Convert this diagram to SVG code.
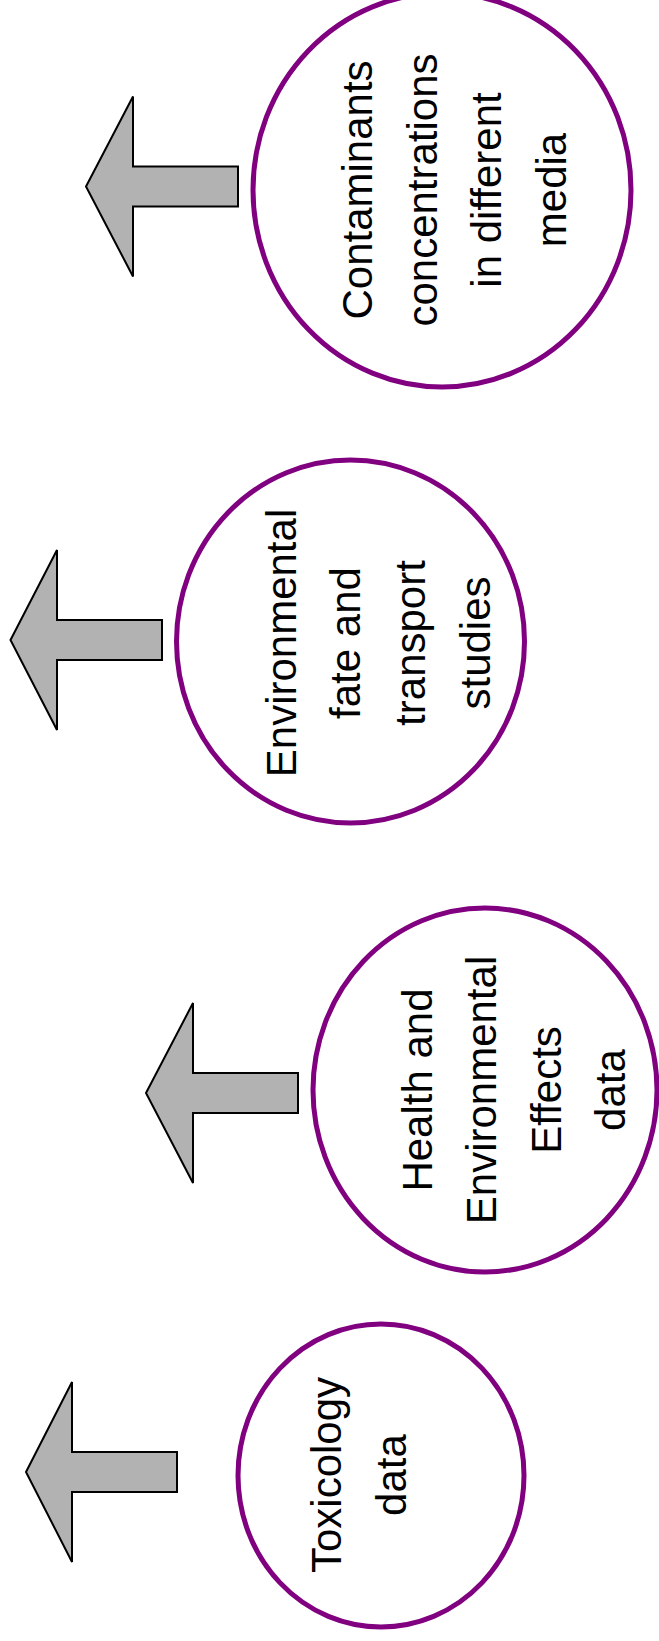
<svg xmlns="http://www.w3.org/2000/svg" width="659" height="1641" viewBox="0 0 659 1641">
<style>
.c{fill:#ffffff;stroke:#800080;stroke-width:5}
.a{fill:#b2b2b2;stroke:#000000;stroke-width:2;stroke-linejoin:miter}
.t{font-family:"Liberation Sans",Arial,sans-serif;font-size:42px;fill:#000000;text-anchor:middle}
</style>
<rect x="0" y="0" width="659" height="1641" fill="#ffffff"/>
<g id="connectors">
<polygon class="a" points="86,186.5 133,96.5 133,166.5 238,166.5 238,206.5 133,206.5 133,276.5"/>
<polygon class="a" points="10.5,640 57,550 57,620 162,620 162,660 57,660 57,730"/>
<polygon class="a" points="146,1093 193,1003 193,1073 298,1073 298,1113 193,1113 193,1183"/>
<polygon class="a" points="26,1472 72,1382 72,1452 177,1452 177,1492 72,1492 72,1562"/>
</g>
<g id="node-contaminants">
<ellipse class="c" cx="442" cy="190" rx="189" ry="197"/>
<text class="t" transform="translate(372,190) rotate(-90)">Contaminants</text>
<text class="t" transform="translate(436.5,190) rotate(-90)">concentrations</text>
<text class="t" transform="translate(501,190) rotate(-90)">in different</text>
<text class="t" transform="translate(565.5,190) rotate(-90)">media</text>
</g>
<g id="node-fate">
<ellipse class="c" cx="350.5" cy="641.5" rx="174" ry="181.5"/>
<text class="t" transform="translate(296,643) rotate(-90)">Environmental</text>
<text class="t" transform="translate(360,643) rotate(-90)">fate and</text>
<text class="t" transform="translate(425,643) rotate(-90)">transport</text>
<text class="t" transform="translate(490,643) rotate(-90)">studies</text>
</g>
<g id="node-health">
<ellipse class="c" cx="485" cy="1090" rx="172" ry="182"/>
<text class="t" transform="translate(431.5,1090) rotate(-90)">Health and</text>
<text class="t" transform="translate(496,1090) rotate(-90)">Environmental</text>
<text class="t" transform="translate(560.5,1090) rotate(-90)">Effects</text>
<text class="t" transform="translate(625,1090) rotate(-90)">data</text>
</g>
<g id="node-toxicology">
<ellipse class="c" cx="381" cy="1475.5" rx="143" ry="151.5"/>
<text class="t" transform="translate(341,1475) rotate(-90)">Toxicology</text>
<text class="t" transform="translate(406,1475) rotate(-90)">data</text>
</g>
</svg>
